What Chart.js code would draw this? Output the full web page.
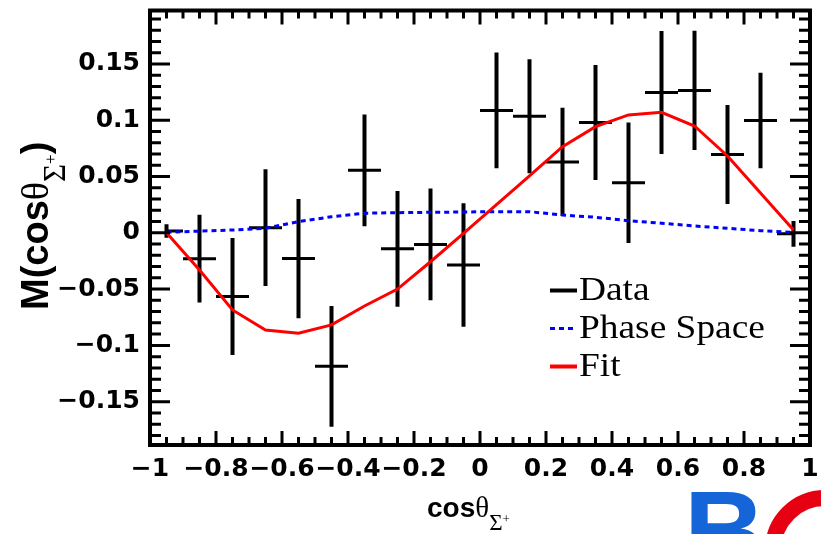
<!DOCTYPE html>
<html>
<head>
<meta charset="utf-8">
<script src="https://cdn.jsdelivr.net/npm/chart.js@4.4.1/dist/chart.umd.min.js"></script>
<style>
    html, body { margin: 0; padding: 0; background: #fff; }
    #wrap { position: relative; width: 821px; height: 534px; overflow: hidden; }
    #chart { position: absolute; left: 0; top: 0; }
    .title { position: absolute; white-space: nowrap; font-family: 'Liberation Sans', Arial, sans-serif; font-weight: bold; line-height: 1; color: #000; }
    .title .gr { font-family: 'Liberation Serif', serif; font-weight: normal; }
    .title .sub { position: relative; font-family: 'Liberation Serif', serif; font-weight: normal; }
    #xtitle { left: 427px; top: 493px; font-size: 28px; }
    #xtitle .gr { font-size: 29px; }
    #xtitle .s1 { font-size: 23px; top: 13px; }
    #xtitle .s2 { font-size: 13px; top: 6px; }
    #ytitle { left: 16px; top: 310px; font-size: 38px; transform-origin: 0 0; transform: rotate(-90deg); }
    #ytitle .gr { font-size: 38px; }
    #ytitle .s1 { font-size: 31px; top: 17px; }
    #ytitle .s2 { font-size: 17px; top: 8px; }
    #logoB { position: absolute; left: 684px; top: 475px; font: bold 112px 'Liberation Sans', Arial, sans-serif; line-height: 1; color: #1565d8; }
    #logoRing { position: absolute; left: 765px; top: 490px; width: 120px; height: 120px; box-sizing: border-box; border: 16px solid #e60012; border-radius: 50%; }
</style>
</head>
<body>
<div id="wrap">
    <canvas id="chart" width="821" height="534"></canvas>
    <div class="title" id="ytitle">M(cos<span class="gr">θ</span><span class="sub s1">Σ</span><span class="sub s2">+</span>)</div>
    <div class="title" id="xtitle">cos<span class="gr">θ</span><span class="sub s1">Σ</span><span class="sub s2">+</span></div>
    <div id="logoB">B</div>
    <div id="logoRing"></div>
</div>
<script>
// bins of cosθ (width 0.1)
const binCenters = [-0.95, -0.85, -0.75, -0.65, -0.55, -0.45, -0.35, -0.25, -0.15, -0.05,
                    0.05, 0.15, 0.25, 0.35, 0.45, 0.55, 0.65, 0.75, 0.85, 0.95];
const binHalfWidth = 0.05;

// measured moments and errors
const dataValues = [0.0016, -0.023, -0.0566, 0.0046, -0.0229, -0.1186, 0.0555, -0.0142, -0.0103, -0.0286,
                    0.1087, 0.1036, 0.063, 0.098, 0.0445, 0.1247, 0.1265, 0.0696, 0.0998, -0.0009];
const dataErrors = [0.006, 0.039, 0.052, 0.0518, 0.053, 0.0536, 0.0496, 0.0514, 0.0497, 0.0548,
                    0.0514, 0.0507, 0.0481, 0.0511, 0.0536, 0.0546, 0.0529, 0.044, 0.0425, 0.0114];

// phase space and fit curves
const phaseSpaceValues = [0.0005, 0.0015, 0.0025, 0.004, 0.0099, 0.0143, 0.0174, 0.0179, 0.0182, 0.0185,
                          0.0188, 0.0188, 0.0158, 0.0138, 0.0108, 0.0085, 0.0061, 0.004, 0.0019, 0.0003];
const fitValues = [0.0, -0.033, -0.0685, -0.0863, -0.0892, -0.0818, -0.065, -0.05, -0.0257, -0.0004,
                   0.0251, 0.0505, 0.0765, 0.0943, 0.1047, 0.1071, 0.0949, 0.0683, 0.0354, 0.0025];

// axes
const xTickValues = [-1, -0.8, -0.6, -0.4, -0.2, 0, 0.2, 0.4, 0.6, 0.8, 1];
const yTickValues = [-0.15, -0.1, -0.05, 0, 0.05, 0.1, 0.15];
const xRange = [-1, 1];
const yRange = [-0.1885, 0.1975];
const xMinorStep = 0.05;
const yMinorStep = 0.01;

const fmtTick = v => String(Math.round(v * 100) / 100).replace('-', '\u2212');
const toPoints = vals => binCenters.map((c, i) => ({ x: c, y: vals[i] }));

// error bars (vertical = error, horizontal = bin width)
const errorBars = {
    id: 'errorBars',
    beforeDatasetsDraw(chart) {
        const { ctx, chartArea, scales: { x, y } } = chart;
        const lo = binCenters[0], hi = binCenters[binCenters.length - 1];
        ctx.save();
        ctx.beginPath();
        ctx.rect(chartArea.left, chartArea.top, chartArea.right - chartArea.left, chartArea.bottom - chartArea.top);
        ctx.clip();
        ctx.strokeStyle = '#000';
        binCenters.forEach((c, i) => {
            const px = x.getPixelForValue(c);
            const py = y.getPixelForValue(dataValues[i]);
            ctx.lineWidth = 4;
            ctx.beginPath();
            ctx.moveTo(px, y.getPixelForValue(dataValues[i] - dataErrors[i]));
            ctx.lineTo(px, y.getPixelForValue(dataValues[i] + dataErrors[i]));
            ctx.stroke();
            ctx.lineWidth = 3;
            ctx.beginPath();
            ctx.moveTo(x.getPixelForValue(Math.max(c - binHalfWidth, lo)), py);
            ctx.lineTo(x.getPixelForValue(Math.min(c + binHalfWidth, hi)), py);
            ctx.stroke();
        });
        ctx.restore();
    }
};

// ROOT style frame with inner ticks
const frame = {
    id: 'frame',
    afterDatasetsDraw(chart) {
        const { ctx, chartArea: a, scales: { x, y } } = chart;
        ctx.save();
        ctx.strokeStyle = '#000';
        ctx.lineWidth = 3;
        ctx.beginPath();
        const nx = Math.round((xRange[1] - xRange[0]) / xMinorStep);
        for (let i = 1; i < nx; i++) {
            const v = xRange[0] + i * xMinorStep;
            const px = x.getPixelForValue(v);
            const len = (i % 4 === 0) ? 14 : 8;
            ctx.moveTo(px, a.bottom); ctx.lineTo(px, a.bottom - len);
            ctx.moveTo(px, a.top); ctx.lineTo(px, a.top + len);
        }
        const y0 = Math.ceil(yRange[0] / yMinorStep), y1 = Math.floor(yRange[1] / yMinorStep);
        for (let i = y0; i <= y1; i++) {
            const py = y.getPixelForValue(i * yMinorStep);
            const len = (i % 5 === 0) ? 20 : 11;
            ctx.moveTo(a.left, py); ctx.lineTo(a.left + len, py);
            ctx.moveTo(a.right, py); ctx.lineTo(a.right - len, py);
        }
        ctx.stroke();
        ctx.lineWidth = 4;
        ctx.strokeRect(a.left, a.top, a.right - a.left, a.bottom - a.top);
        ctx.restore();
    }
};

// legend inside the frame
const innerLegend = {
    id: 'innerLegend',
    afterDraw(chart) {
        const { ctx } = chart;
        const legendX = 550, legendY = 300, row = 38;
        ctx.save();
        chart.data.datasets.forEach((ds, i) => {
            const by = legendY + i * row;
            ctx.strokeStyle = ds.borderColor;
            ctx.lineWidth = ds.legendWidth;
            ctx.setLineDash(ds.borderDash || []);
            ctx.beginPath();
            ctx.moveTo(legendX, by - 9.5);
            ctx.lineTo(legendX + 27, by - 9.5);
            ctx.stroke();
            ctx.setLineDash([]);
            ctx.save();
            ctx.translate(legendX + 29, by);
            ctx.scale(1.1, 1);
            ctx.fillStyle = '#000';
            ctx.font = "34px 'Liberation Serif', serif";
            ctx.textBaseline = 'alphabetic';
            ctx.fillText(ds.label, 0, 0);
            ctx.restore();
        });
        ctx.restore();
    }
};

const tickFont = { family: "'DejaVu Sans', sans-serif", weight: 'bold', size: 25 };

new Chart(document.getElementById('chart'), {
    type: 'scatter',
    data: {
        datasets: [
            { label: 'Data', data: toPoints(dataValues), borderColor: '#000', backgroundColor: '#000',
              pointRadius: 0, showLine: false, legendWidth: 4, order: 2 },
            { label: 'Phase Space', data: toPoints(phaseSpaceValues), borderColor: '#0000ff',
              borderWidth: 3, borderDash: [5, 4], pointRadius: 0, showLine: true, legendWidth: 3, order: 1 },
            { label: 'Fit', data: toPoints(fitValues), borderColor: '#ff0000',
              borderWidth: 3, pointRadius: 0, showLine: true, legendWidth: 4, order: 0 }
        ]
    },
    options: {
        responsive: false,
        animation: false,
        devicePixelRatio: 1,
        layout: { padding: { top: 10.5, right: 11, left: 0, bottom: 0 } },
        plugins: { legend: { display: false }, tooltip: { enabled: false } },
        scales: {
            x: {
                type: 'linear', min: xRange[0], max: xRange[1],
                afterBuildTicks: s => { s.ticks = xTickValues.map(v => ({ value: v })); },
                afterFit: s => { s.height = 89; s.paddingLeft = 0; s.paddingRight = 0; },
                grid: { display: false, drawTicks: false },
                border: { display: false },
                ticks: { font: tickFont, color: '#000', padding: 9, maxRotation: 0, autoSkip: false,
                         callback: v => fmtTick(v) }
            },
            y: {
                type: 'linear', min: yRange[0], max: yRange[1],
                afterBuildTicks: s => { s.ticks = yTickValues.map(v => ({ value: v })); },
                afterFit: s => { s.width = 150; s.paddingTop = 0; s.paddingBottom = 0; },
                grid: { display: false, drawTicks: false },
                border: { display: false },
                ticks: { font: tickFont, color: '#000', padding: 10, autoSkip: false,
                         callback: v => fmtTick(v) }
            }
        }
    },
    plugins: [errorBars, frame, innerLegend]
});
</script>
</body>
</html>
